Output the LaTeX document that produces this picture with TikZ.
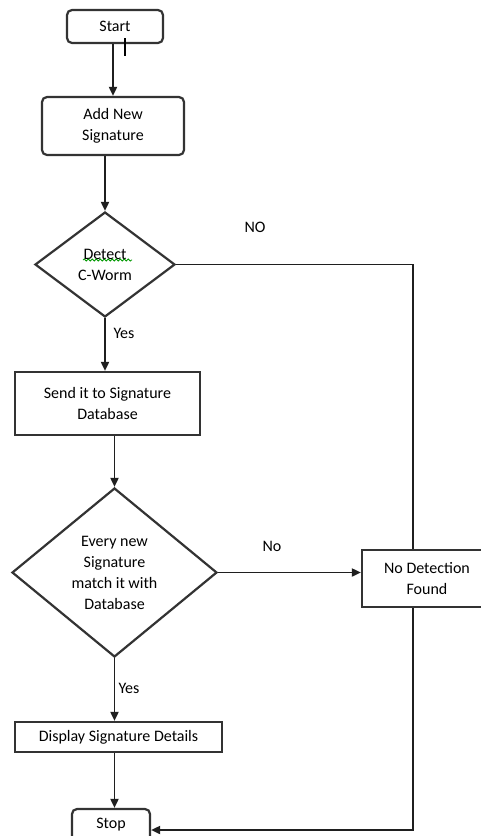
\documentclass[tikz,border=0pt]{standalone}
\usepackage{fontspec}
\setmainfont{Carlito}
\usetikzlibrary{shapes.geometric}
\usetikzlibrary{arrows.meta}
\usetikzlibrary{decorations.pathmorphing}
\tikzset{
    boxline/.style={draw=black!80,line width=2.2pt},
    termbox/.style={boxline,rounded corners=5pt,align=center,inner sep=0pt},
    stepbox/.style={boxline,align=center,inner sep=0pt},
    decidebox/.style={boxline,diamond,align=center,inner sep=0pt},
    flow/.style={draw=black!88,line width=1.8pt,-{Triangle[length=9pt,width=8pt]}},
    rail/.style={draw=black!88,line width=1.8pt},
    tag/.style={inner sep=0pt},
}

\begin{document}
\begin{tikzpicture}[x=1pt,y=-1pt,font=\fontsize{16}{21}\selectfont]
\clip (0,0) rectangle (481,836);
\fill[white] (0,0) rectangle (481,836);
\node[termbox,minimum width=96pt,minimum height=33pt] (start) at (115,26.5) {Start};
\node[termbox,minimum width=142pt,minimum height=58pt] (add) at (113,126) {Add New\\Signature};
\node[decidebox,minimum width=140pt,minimum height=105pt] (detect) at (105,264.5) {Detect\\C-Worm};
\node[stepbox,minimum width=185pt,minimum height=63pt] (send) at (107.5,403.5) {Send it to Signature\\Database};
\node[decidebox,minimum width=205pt,minimum height=169pt] (match) at (114.5,572.5) {Every new\\Signature\\match it with\\Database};
\node[stepbox,minimum width=130pt,minimum height=57pt] (nodet) at (427,578.5) {No Detection\\Found};
\node[stepbox,minimum width=207pt,minimum height=30pt] (display) at (118.5,737) {Display Signature Details};
\node[termbox,minimum width=78pt,minimum height=32pt] (stop) at (111,825) {Stop};
\coordinate (side) at (413,0);
% labels
\node[tag] (no1) at (255,227) {NO};
\node[tag] (no2) at (272,546) {No};
\node[tag] (yes1) at (124,333) {Yes};
\node[tag] (yes2) at (129,688) {Yes};
% connectors
\draw[flow] (start.south -| add.north) -- (add.north);
\draw[flow] (add.south -| detect.north) -- (detect.north);
\draw[rail] (detect.east) -- (detect.east -| side) -- (side |- nodet.north);
\draw[flow] (detect.south) -- (send.north -| detect.south);
\draw[flow] (send.south -| match.north) -- (match.north);
\draw[flow] (match.east) -- (match.east -| nodet.west);
\draw[flow] (match.south) -- (display.north -| match.south);
\draw[flow] (display.south -| match.south) -- (stop.north -| match.south);
\draw[flow] (side |- nodet.south) -- ([yshift=-5pt]side |- stop.east) -- ([yshift=-5pt]stop.east);
% marks on the page
\draw[line width=2.5pt] (125,38) -- (125,56);
\draw[green!60!black,line width=0.8pt,decorate,decoration={snake,amplitude=1pt,segment length=4pt}] (83,260) -- (132,260);
\end{tikzpicture}
\end{document}
